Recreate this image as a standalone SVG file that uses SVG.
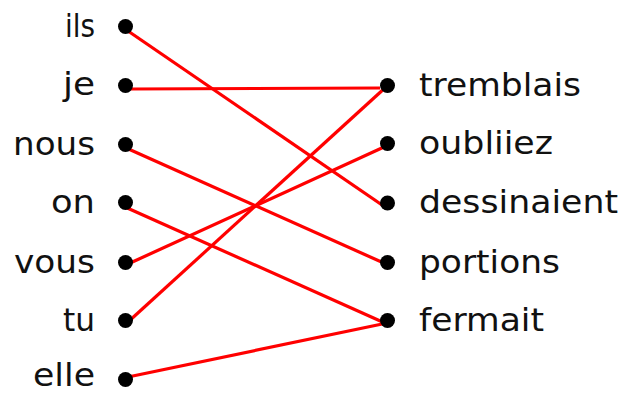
<svg xmlns="http://www.w3.org/2000/svg" width="634" height="394" viewBox="0 0 634 394">
<style>
.lbl{font-family:"DejaVu Sans","Liberation Sans",sans-serif;font-size:32px;fill:#111;}
.l{text-anchor:end;}
.dot{fill:#000;}
.con line{stroke:#ff0000;stroke-width:3.2;stroke-linecap:butt;}
</style>
<rect width="634" height="394" fill="#fff"/>
<g class="con" id="connectors">
<line x1="128" y1="31" x2="385" y2="207"/>
<line x1="131" y1="89" x2="380" y2="88"/>
<line x1="124" y1="147" x2="386" y2="264"/>
<line x1="125" y1="207" x2="387" y2="324"/>
<line x1="128" y1="264" x2="384" y2="147"/>
<line x1="128" y1="322" x2="386" y2="87"/>
<line x1="128" y1="377" x2="387" y2="323"/>
</g>
<g id="ils"><text class="lbl l" x="95" y="37" textLength="30" lengthAdjust="spacingAndGlyphs">ils</text><circle class="dot" cx="125.5" cy="26.5" r="7.5"/></g>
<g id="je"><text class="lbl l" x="95" y="95" textLength="32" lengthAdjust="spacingAndGlyphs">je</text><circle class="dot" cx="125.5" cy="85.5" r="7.5"/></g>
<g id="nous"><text class="lbl l" x="95" y="155" textLength="82" lengthAdjust="spacingAndGlyphs">nous</text><circle class="dot" cx="125.5" cy="144.5" r="7.5"/></g>
<g id="on"><text class="lbl l" x="95" y="213" textLength="44" lengthAdjust="spacingAndGlyphs">on</text><circle class="dot" cx="125.5" cy="202.5" r="7.5"/></g>
<g id="vous"><text class="lbl l" x="95" y="272.5" textLength="81" lengthAdjust="spacingAndGlyphs">vous</text><circle class="dot" cx="125.5" cy="262.5" r="7.5"/></g>
<g id="tu"><text class="lbl l" x="95" y="330.5" textLength="32" lengthAdjust="spacingAndGlyphs">tu</text><circle class="dot" cx="125.5" cy="320.5" r="7.5"/></g>
<g id="elle"><text class="lbl l" x="95" y="386" textLength="62" lengthAdjust="spacingAndGlyphs">elle</text><circle class="dot" cx="125.5" cy="379.5" r="7.5"/></g>
<g id="tremblais"><circle class="dot" cx="387.5" cy="85.5" r="7.5"/><text class="lbl" x="419" y="95.5" textLength="162" lengthAdjust="spacingAndGlyphs">tremblais</text></g>
<g id="oubliiez"><circle class="dot" cx="387.5" cy="143.5" r="7.5"/><text class="lbl" x="419" y="154" textLength="134" lengthAdjust="spacingAndGlyphs">oubliiez</text></g>
<g id="dessinaient"><circle class="dot" cx="387.5" cy="203" r="7.5"/><text class="lbl" x="419" y="213" textLength="199" lengthAdjust="spacingAndGlyphs">dessinaient</text></g>
<g id="portions"><circle class="dot" cx="387.5" cy="262.5" r="7.5"/><text class="lbl" x="419" y="272.5" textLength="141" lengthAdjust="spacingAndGlyphs">portions</text></g>
<g id="fermait"><circle class="dot" cx="387.5" cy="320.5" r="7.5"/><text class="lbl" x="419" y="330.5" textLength="125" lengthAdjust="spacingAndGlyphs">fermait</text></g>
</svg>
